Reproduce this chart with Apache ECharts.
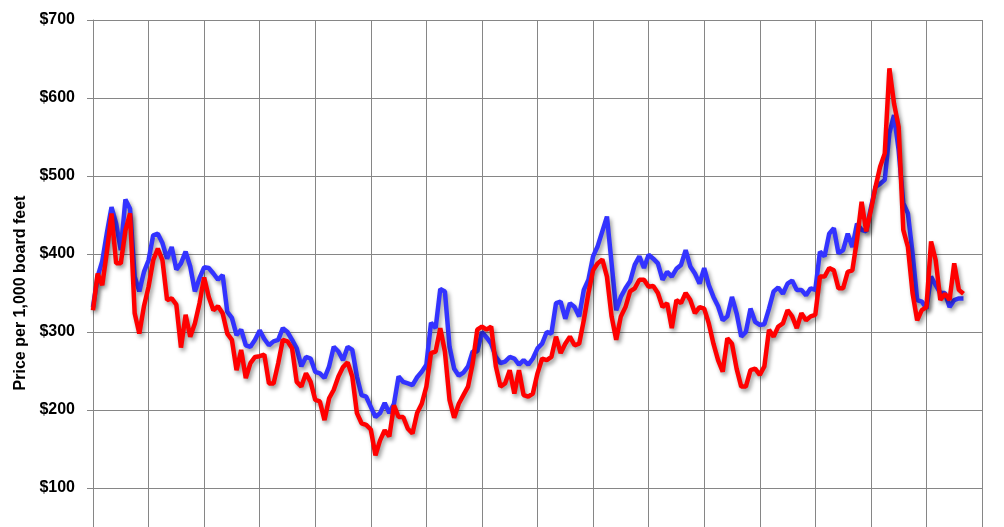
<!DOCTYPE html>
<html lang="en">
<head>
    <meta charset="UTF-8">
    <title>Lumber price</title>
    <script src="https://cdn.jsdelivr.net/npm/echarts@6/dist/echarts.min.js"></script>
    <style>
        html, body { margin: 0; padding: 0; background: #fff; }
        #container { width: 1004px; height: 527px; }
    </style>
</head>
<body>
<div id="container"></div>

<script>
    // monthly points, Jan 2004 onwards
    var years = [2004, 2005, 2006, 2007, 2008, 2009, 2010, 2011, 2012, 2013, 2014, 2015, 2016, 2017, 2018, 2019];
    var yTicks = [0, 100, 200, 300, 400, 500, 600, 700];

    var bluePrice = [
        332, 371, 391, 427, 460, 439, 405, 470, 458, 371, 352, 377,
        392, 424, 426, 414, 394, 409, 380, 388, 403, 384, 352, 369,
        383, 382, 375, 367, 373, 326, 318, 296, 303, 283, 281, 290,
        302, 291, 283, 288, 290, 305, 300, 290, 279, 256, 268, 266,
        249, 247, 241, 256, 281, 275, 264, 281, 277, 243, 219, 217,
        204, 191, 196, 209, 196, 208, 243, 236, 234, 232, 242, 249,
        258, 312, 305, 355, 352, 281, 253, 244, 248, 256, 275, 275,
        300, 293, 285, 268, 260, 262, 268, 266, 258, 264, 258, 266,
        279, 285, 300, 298, 337, 339, 317, 337, 332, 320, 354, 367,
        397, 410, 429, 448, 388, 328, 345, 356, 365, 386, 397, 382,
        399, 394, 388, 367, 377, 371, 381, 386, 405, 384, 375, 362,
        382, 360, 345, 333, 315, 320, 345, 324, 294, 300, 330, 313,
        309, 310, 330, 352, 357, 349, 362, 366, 354, 354, 347, 356,
        354, 403, 397, 426, 433, 401, 405, 426, 409, 439, 431, 429,
        459, 486, 490, 495, 555, 578, 533, 465, 452, 401, 341, 339,
        330, 371, 360, 350, 350, 332, 341, 343, 343
    ];

    var redPrice = [
        328, 375, 360, 403, 452, 388, 388, 430, 452, 324, 298, 333,
        358, 392, 407, 392, 341, 343, 335, 280, 322, 294, 311, 337,
        370, 345, 328, 333, 324, 298, 290, 251, 277, 241, 260, 268,
        269, 271, 234, 234, 260, 290, 288, 279, 236, 230, 247, 236,
        213, 211, 187, 215, 226, 243, 255, 261, 243, 196, 183, 181,
        175, 142, 161, 174, 166, 206, 191, 191, 176, 170, 196, 208,
        230, 273, 275, 305, 275, 213, 190, 208, 219, 230, 260, 303,
        307, 303, 307, 256, 230, 234, 251, 221, 251, 219, 217, 221,
        247, 266, 264, 268, 294, 273, 285, 294, 283, 285, 315, 350,
        379, 388, 393, 371, 320, 290, 320, 332, 352, 356, 367, 367,
        358, 359, 350, 332, 337, 305, 341, 337, 350, 341, 324, 332,
        330, 311, 285, 264, 249, 292, 285, 253, 230, 230, 251, 253,
        245, 256, 303, 294, 307, 311, 328, 320, 305, 324, 315, 320,
        322, 371, 371, 382, 379, 356, 356, 377, 379, 418, 467, 429,
        456, 486, 512, 529, 638, 593, 563, 431, 409, 350, 315, 328,
        332, 416, 392, 341, 349, 341, 388, 354, 349
    ];

    // month labels: every month of every year, plus Jan of the closing year
    var months = [];
    years.forEach(function (y) {
        for (var m = 1; m <= 12; m++) {
            months.push(y + '-' + (m < 10 ? '0' + m : m));
        }
    });
    months.push((years[years.length - 1] + 1) + '-01');

    var myChart = echarts.init(document.getElementById('container'));

    var lineShadow = {
        shadowColor: 'rgba(0, 0, 0, 0.4)',
        shadowBlur: 4,
        shadowOffsetX: 2,
        shadowOffsetY: 3
    };

    var option = {
        animation: false,
        backgroundColor: '#ffffff',
        grid: {
            left: 93,
            right: 22,
            top: 20,
            height: 546,            // $0 sits below the visible picture
            outerBoundsMode: 'none' // don't shrink the grid to fit labels
        },
        xAxis: {
            type: 'category',
            data: months,
            boundaryGap: false,
            axisLine: { show: false },
            axisTick: { show: false },
            axisLabel: { show: false },
            splitLine: {
                show: true,
                interval: function (index) { return index % 12 === 0; },
                lineStyle: { color: '#868686', width: 1 }
            }
        },
        yAxis: {
            type: 'value',
            min: yTicks[0],
            max: yTicks[yTicks.length - 1],
            interval: 100,
            name: 'Price per 1,000 board feet',
            nameLocation: 'middle',
            nameGap: 63,
            nameTextStyle: {
                color: '#000',
                fontFamily: 'Liberation Sans',
                fontWeight: 'bold',
                fontSize: 16
            },
            axisLine: { show: true, lineStyle: { color: '#868686', width: 1 } },
            axisTick: { show: true, length: 6, lineStyle: { color: '#868686' } },
            axisLabel: {
                margin: 18,
                color: '#000',
                fontFamily: 'Liberation Sans',
                fontWeight: 'bold',
                fontSize: 16,
                formatter: function (v) { return '$' + v; }
            },
            splitLine: { show: true, lineStyle: { color: '#868686', width: 1 } }
        },
        series: [
            {
                name: 'blue',
                type: 'line',
                data: bluePrice,
                symbol: 'none',
                smooth: false,
                lineStyle: Object.assign({ color: '#3333ff', width: 4.5 }, lineShadow),
                z: 2
            },
            {
                name: 'red',
                type: 'line',
                data: redPrice,
                symbol: 'none',
                smooth: false,
                lineStyle: Object.assign({ color: '#ff0000', width: 4.5 }, lineShadow),
                z: 3
            }
        ]
    };

    myChart.setOption(option);
</script>
</body>
</html>
